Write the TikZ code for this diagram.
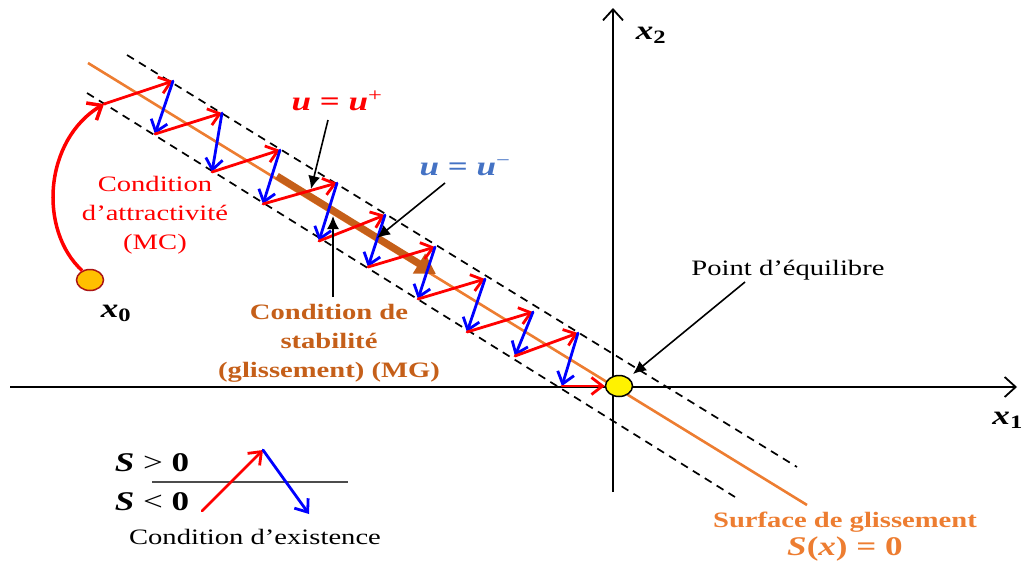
\documentclass[tikz,border=0pt]{standalone}
\usepackage{fontspec}
\setmainfont{Liberation Serif}[FakeStretch=1.3]
\usetikzlibrary{arrows.meta,shapes.geometric}
\definecolor{myorange}{RGB}{237,125,49}
\definecolor{mybrown}{RGB}{197,95,25}
\definecolor{mysteel}{RGB}{68,114,196}
\definecolor{ptgold}{RGB}{255,192,0}
\definecolor{ptred}{RGB}{170,20,20}
\newcommand{\bi}[1]{{\bfseries\itshape #1}}
\begin{document}
\begin{tikzpicture}[x=1pt,y=-1pt,
  lbl/.style={font=\fontsize{22}{29}\selectfont, align=center, inner sep=0pt},
  lblb/.style={font=\fontsize{22}{29}\selectfont\bfseries, align=center, inner sep=0pt},
  mathlbl/.style={font=\fontsize{27}{29}\selectfont\bfseries, align=center, inner sep=0pt},
  redarr/.style={red, line width=2.8pt, line cap=round, -{Straight Barb[length=11pt,width=17pt]}},
  bluearr/.style={blue, line width=2.8pt, line cap=round, -{Straight Barb[length=11pt,width=17pt]}},
  axisline/.style={black, line width=1.8pt, -{Straight Barb[length=11pt,width=20pt]}},
  dashline/.style={black, line width=1.7pt, dash pattern=on 8pt off 6pt},
  pointer/.style={black, line width=1.6pt, -{Latex[length=13pt,width=12pt]}},
  pointnode/.style={ellipse, line width=1.5pt, minimum width=27pt, minimum height=21pt, inner sep=0pt}
]
\useasboundingbox (0,0) rectangle (1023,563);

% axes
\coordinate (xa0) at (10,387);
\coordinate (xa1) at (1017,387);
\coordinate (ya0) at (613,492);
\coordinate (ya1) at (613,8);
\draw[axisline] (xa0) -- (xa1);
\draw[axisline] (ya0) -- (ya1);

% dashed band
\coordinate (du0) at (127,55);
\coordinate (du1) at (797,467);
\coordinate (dl0) at (87,93);
\coordinate (dl1) at (735,497);
\draw[dashline] (du0) -- (du1);
\draw[dashline] (dl0) -- (dl1);

% sliding surface
\coordinate (s0) at (88,63);
\coordinate (s1) at (807,505);
\draw[myorange, line width=2.6pt] (s0) -- (s1);

% stability arrow (thick brown)
\coordinate (b0) at (277,176);
\coordinate (b1) at (436,274);
\draw[mybrown, line width=7pt, -{Triangle[length=20pt,width=22pt]}] (b0) -- (b1);

% zigzag points
\coordinate (L0) at (104,104);
\coordinate (U1) at (173,81);
\coordinate (L1) at (155,134);
\coordinate (U2) at (222,113);
\coordinate (L2) at (212,172);
\coordinate (U3) at (280,150);
\coordinate (L3) at (263,204);
\coordinate (U4) at (337,183);
\coordinate (L4) at (319,241);
\coordinate (U5) at (385,215);
\coordinate (L5) at (368,267);
\coordinate (U6) at (435,247);
\coordinate (L6) at (418,299);
\coordinate (U7) at (485,279);
\coordinate (L7) at (467,332);
\coordinate (U8) at (533,312);
\coordinate (L8) at (515,356);
\coordinate (U9) at (578,333);
\coordinate (L9) at (562,386);

\foreach \i [evaluate=\i as \j using int(\i-1)] in {1,...,9}{
  \draw[redarr] (L\j) -- (U\i);
  \draw[bluearr] (U\i) -- (L\i);
}

% points
\node[pointnode, draw=ptred, fill=ptgold] (x0pt) at (90,280) {};
\node[pointnode, draw=black, fill=yellow] (eq) at (619,386) {};
\draw[redarr] (L9) -- (eq.west);

% attractivity curve
\draw[red, line width=3.5pt, -{Straight Barb[length=12pt,width=20pt]}]
  (x0pt.130) .. controls (38,230) and (44,140) .. (L0);

% labels
\node[lbl, red] (attr) at (155,215) {Condition\\d’attractivité\\(MC)};
\node[lblb, mybrown] (stab) at (329,343) {Condition de\\stabilité\\(glissement) (MG)};
\node[mathlbl, red] (uplus) at (337,101) {\bi{u} = \bi{u}\textsuperscript{\mdseries +}};
\node[mathlbl, mysteel] (uminus) at (465,168) {\bi{u} = \bi{u}\textsuperscript{\mdseries −}};
\node[lbl] (equil) at (788,270) {Point d’équilibre};
\node[lblb, myorange] (surf) at (845,522) {Surface de glissement};
\node[mathlbl, myorange] (surfeq) at (845,549) {\bi{S}(\bi{x}) = 0};
\node[mathlbl] (xzero) at (116,313) {\bi{x}\textsubscript{0}};
\node[mathlbl] (xtwo) at (651,35) {\bi{x}\textsubscript{2}};
\node[mathlbl, anchor=east] (xone) at (1023,420) {\bi{x}\textsubscript{1}};

% pointers
\coordinate (pu0) at (328,120);
\coordinate (pu1) at (311,189);
\draw[pointer] (pu0) -- (pu1);
\coordinate (pm0) at (445,183);
\coordinate (pm1) at (377,238);
\draw[pointer] (pm0) -- (pm1);
\coordinate (ps0) at (333,297);
\coordinate (ps1) at (333,216);
\draw[pointer] (ps0) -- (ps1);
\coordinate (pe0) at (745,282);
\coordinate (pe1) at (633,374);
\draw[pointer] (pe0) -- (pe1);

% legend
\node[mathlbl] (sgt) at (152,463) {\bi{S} {\mdseries >} 0};
\node[mathlbl] (slt) at (152,502) {\bi{S} {\mdseries <} 0};
\coordinate (lg0) at (152,482);
\coordinate (lg1) at (348,482);
\draw[black!70, line width=1.6pt] (lg0) -- (lg1);
\coordinate (lr0) at (202,511);
\coordinate (lr1) at (263,450);
\coordinate (lb1) at (309,514);
\draw[redarr] (lr0) -- (lr1);
\draw[bluearr] (lr1) -- (lb1);
\node[lbl] (exist) at (255,537) {Condition d’existence};
\end{tikzpicture}
\end{document}
